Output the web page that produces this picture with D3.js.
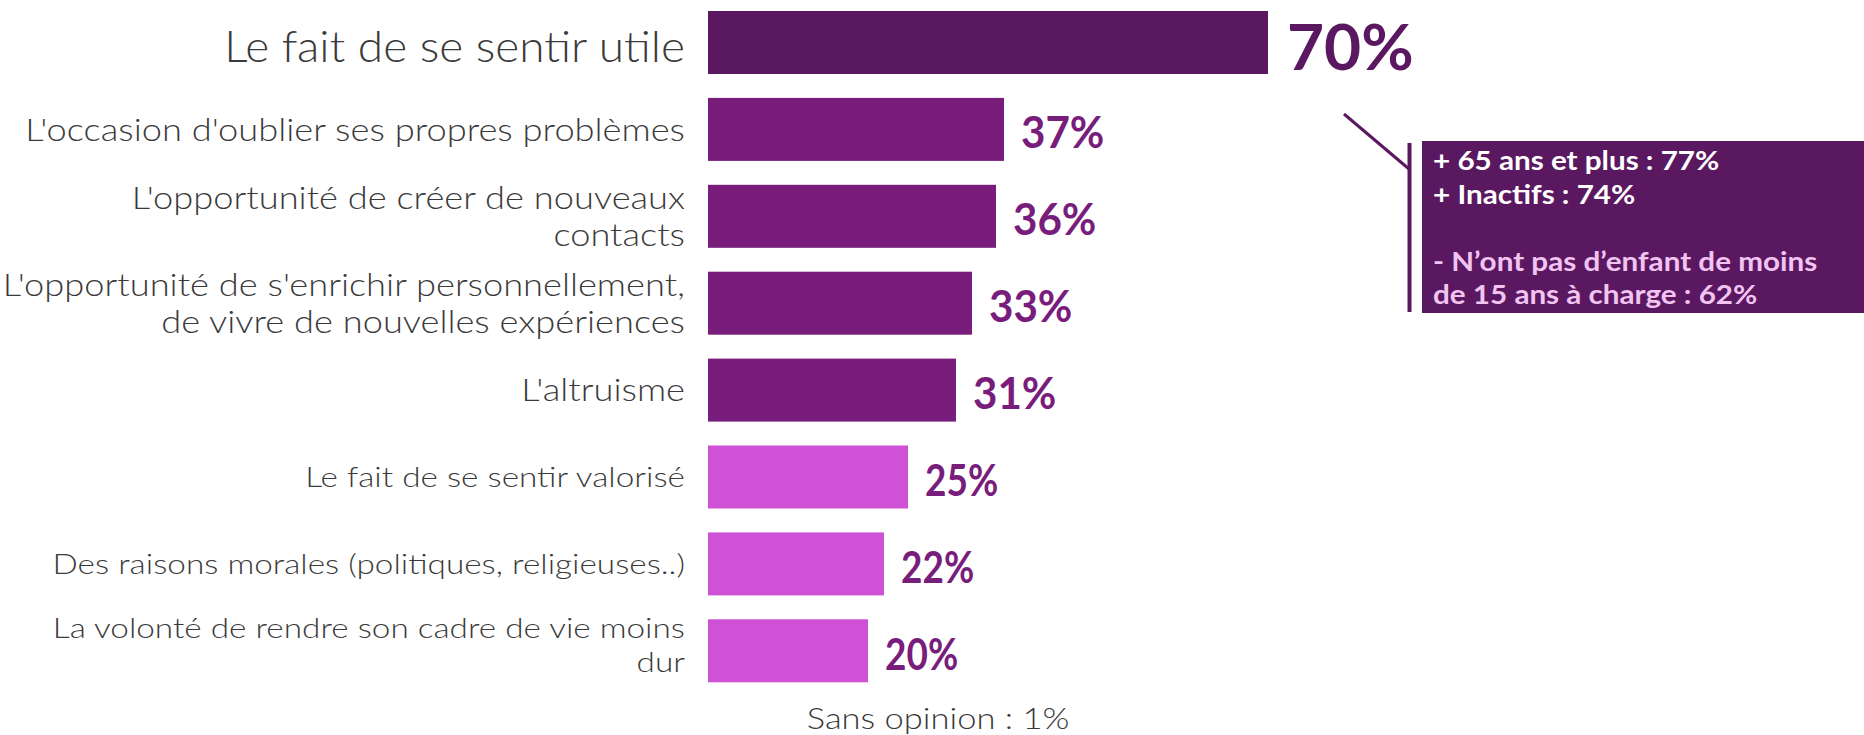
<!DOCTYPE html>
<html><head><meta charset="utf-8">
<script src="https://cdn.jsdelivr.net/npm/d3@7"></script>
<style>body{margin:0;background:#fff} svg{display:block}</style>
</head><body><svg id="c" width="1864" height="735"></svg>
<script>
const categories = [
  "Le fait de se sentir utile",
  "L'occasion d'oublier ses propres problèmes",
  "L'opportunité de créer de nouveaux\ncontacts",
  "L'opportunité de s'enrichir personnellement,\nde vivre de nouvelles expériences",
  "L'altruisme",
  "Le fait de se sentir valorisé",
  "Des raisons morales (politiques, religieuses..)",
  "La volonté de rendre son cadre de vie moins\ndur"
];
const values = [70, 37, 36, 33, 31, 25, 22, 20];
const tiers = ["top", "mid", "mid", "mid", "mid", "low", "low", "low"];
const annotationLines = [
  "+ 65 ans et plus : 77%",
  "+ Inactifs : 74%",
  "",
  "- N\u2019ont pas d\u2019enfant de moins",
  "de 15 ans à charge : 62%"
];
const annotationKinds = ["plus", "plus", "", "minus", "minus"];
const footnote = "Sans opinion : 1%";

const FONT = "Lato, 'Noto Sans', sans-serif";
const barColor = {top: "#5a1860", mid: "#781d7b", low: "#cf52d6"};
const valColor = {top: "#5a1860", mid: "#781d7b", low: "#781d7b"};
const labelSize = {top: 43, mid: 31, low: 28};
const labelStretch = {top: 1.07, mid: 1.17, low: 1.19};
const valueStretch = {top: 1, mid: 0.98, low: 0.86};
const annColor = {plus: "#ffffff", minus: "#f2c4f2", "": "#ffffff"};

const svg = d3.select("#c");
const x = d3.scaleLinear().domain([0, 100]).range([708, 1508]);
const y = d3.scaleBand().domain(categories).range([-0.95, 694.25])
  .paddingInner(0.275).paddingOuter(0.1375);

const data = categories.map((c, i) => ({c, v: values[i], t: tiers[i], i}));

// bars
svg.selectAll("rect.bar").data(data).join("rect")
  .attr("class", "bar")
  .attr("x", x(0))
  .attr("y", d => y(d.c))
  .attr("width", d => x(d.v) - x(0))
  .attr("height", y.bandwidth())
  .attr("fill", d => barColor[d.t]);

// category labels
const lbl = svg.selectAll("g.lbl").data(data).join("g")
  .attr("class", "lbl")
  .attr("transform", d => `translate(685,${y(d.c) + y.bandwidth() / 2}) scale(${labelStretch[d.t]},1)`);
lbl.each(function(d) {
  const g = d3.select(this);
  const lines = d.c.split("\n");
  const big = d.t === "top";
  const fs = labelSize[d.t];
  const lh = fs * 1.19;
  const shift = (lines.length > 1 && d.t === "low") ? -6 : 0;
  const t = g.append("text")
    .attr("text-anchor", "end")
    .attr("font-family", FONT)
    .attr("font-weight", 300)
    .attr("font-size", fs)
    .attr("fill", "#3a3a3a");
  lines.forEach((ln, k) => {
    t.append("tspan").attr("x", 0)
      .attr("y", (k - (lines.length - 1) / 2) * lh + fs * 0.36 + (big ? 4 : 0) + shift)
      .text(ln);
  });
});

// value labels
svg.selectAll("text.val").data(data).join("text")
  .attr("class", "val")
  .attr("transform", d => `translate(${x(d.v) + (d.t === "top" ? 19 : 17)},${y(d.c) + y.bandwidth() / 2 + (d.t === "top" ? 27 : 19)}) scale(${valueStretch[d.t]},1)`)
  .attr("font-family", FONT)
  .attr("font-weight", 700)
  .attr("font-size", d => d.t === "top" ? 64 : 43)
  .attr("fill", d => valColor[d.t])
  .text(d => d.v + "%");

// annotation
const ann = svg.append("g");
ann.append("line").attr("x1", 1344).attr("y1", 114).attr("x2", 1409).attr("y2", 169)
  .attr("stroke", "#5a1860").attr("stroke-width", 3);
ann.append("line").attr("x1", 1409.5).attr("y1", 143).attr("x2", 1409.5).attr("y2", 312)
  .attr("stroke", "#5a1860").attr("stroke-width", 4);
ann.append("rect").attr("x", 1422).attr("y", 141).attr("width", 442).attr("height", 172)
  .attr("fill", "#5a1860");
ann.selectAll("text").data(annotationLines).join("text")
  .attr("transform", (d, i) => `translate(1433,${170 + i * 33.5}) scale(1.14,1)`)
  .attr("font-family", FONT)
  .attr("font-weight", 700)
  .attr("font-size", 26)
  .attr("fill", (d, i) => annColor[annotationKinds[i]])
  .text(d => d);

// footnote
svg.append("text").attr("transform", "translate(938,729) scale(1.19,1)")
  .attr("text-anchor", "middle")
  .attr("font-family", FONT).attr("font-weight", 300).attr("font-size", 29)
  .attr("fill", "#3a3a3a").text(footnote);
</script></body></html>
